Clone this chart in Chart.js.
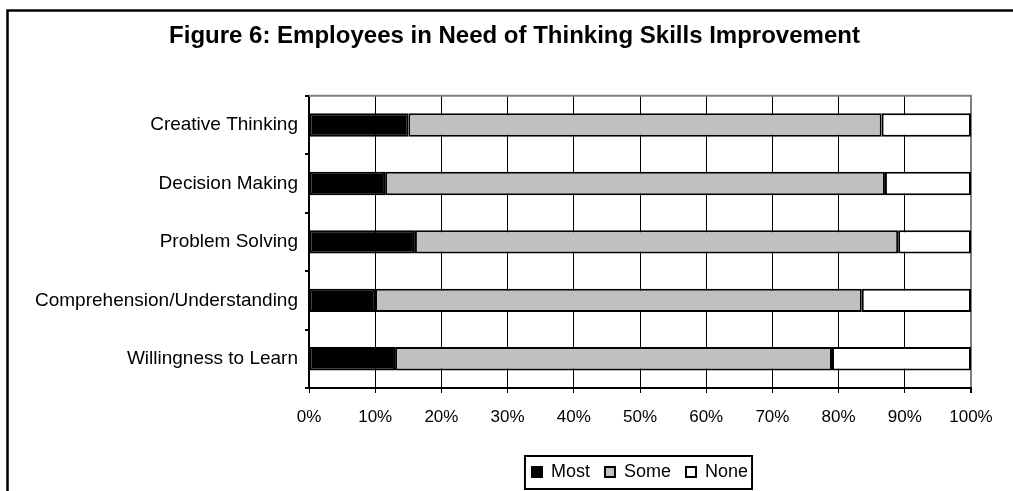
<!DOCTYPE html>
<html lang="en">
<head>
    <meta charset="UTF-8">
    <title>Figure 6</title>
    <script src="https://cdn.jsdelivr.net/npm/chart.js"></script>
    <style>
        body { margin: 0; background: #fff; }
        canvas { display: block; }
    </style>
</head>
<body>
    <canvas id="myChart" width="1013" height="491"></canvas>

    <script>
        // data (percent of employees)
        const skills = ["Creative Thinking", "Decision Making", "Problem Solving", "Comprehension/Understanding", "Willingness to Learn"];
        const most = [15, 11.5, 16, 10, 13];
        const some = [71.5, 75.5, 73, 73.5, 66];
        const none = [13.5, 13, 11, 16.5, 21];
        const xTicks = [0, 10, 20, 30, 40, 50, 60, 70, 80, 90, 100];

        const FONT = "'Liberation Sans', Arial, sans-serif";

        // outer frame, top plot border and the box around the legend
        const decor = {
            id: "decor",
            afterDraw(chart) {
                const ctx = chart.ctx;
                const area = chart.chartArea;
                ctx.save();
                ctx.strokeStyle = "#808080";
                ctx.lineWidth = 2;
                ctx.beginPath();
                ctx.moveTo(area.left, area.top);
                ctx.lineTo(area.right + 1, area.top);
                ctx.stroke();

                const hb = chart.legend.legendHitBoxes;
                if (hb && hb.length) {
                    const first = hb[0], last = hb[hb.length - 1];
                    const cy = first.top + first.height / 2;
                    ctx.strokeStyle = "#000";
                    ctx.lineWidth = 2;
                    ctx.strokeRect(first.left - 7, cy - 16, last.left + last.width - first.left + 11, 33);
                }

                ctx.strokeStyle = "#000";
                ctx.lineWidth = 2.5;
                ctx.strokeRect(7.5, 10.5, 1100, 600);
                ctx.restore();
            }
        };

        new Chart(document.getElementById("myChart"), {
            type: "bar",
            data: {
                labels: skills,
                datasets: [
                    { label: "Most", data: most, backgroundColor: "#000000" },
                    { label: "Some", data: some, backgroundColor: "#c0c0c0" },
                    { label: "None", data: none, backgroundColor: "#ffffff" }
                ]
            },
            options: {
                indexAxis: "y",
                responsive: false,
                animation: false,
                layout: { padding: { left: 16, right: 0, top: 0, bottom: 0 } },
                datasets: {
                    bar: {
                        borderColor: "#000",
                        borderWidth: 2,
                        borderSkipped: false,
                        barPercentage: 0.4,
                        categoryPercentage: 1
                    }
                },
                plugins: {
                    title: {
                        display: true,
                        text: "Figure 6: Employees in Need of Thinking Skills Improvement",
                        color: "#000",
                        font: { family: FONT, size: 24, weight: "bold" },
                        padding: { top: 22, bottom: 45 }
                    },
                    legend: {
                        position: "bottom",
                        fullSize: false,
                        labels: {
                            color: "#000",
                            font: { family: FONT, size: 18 },
                            boxWidth: 10,
                            boxHeight: 10,
                            padding: 15
                        }
                    },
                    tooltip: { enabled: false }
                },
                scales: {
                    x: {
                        stacked: true,
                        min: 0,
                        max: 100,
                        afterBuildTicks: s => { s.ticks = xTicks.map(v => ({ value: v })); },
                        afterFit: s => { s.height = 60; },
                        ticks: {
                            color: "#000",
                            font: { family: FONT, size: 17 },
                            padding: 14,
                            callback: v => v + "%"
                        },
                        grid: {
                            color: c => c.index === 10 ? "#808080" : "#000",
                            lineWidth: c => c.index === 10 ? 2 : 1,
                            tickColor: "#000",
                            tickLength: 5
                        },
                        border: { color: "#000", width: 2 }
                    },
                    y: {
                        stacked: true,
                        afterFit: s => { s.width = 293; },
                        ticks: {
                            color: "#000",
                            font: { family: FONT, size: 19 },
                            padding: 7
                        },
                        grid: {
                            drawOnChartArea: false,
                            color: "#000",
                            lineWidth: 2,
                            tickLength: 4
                        },
                        border: { color: "#000", width: 2 }
                    },
                    yRight: {
                        type: "linear",
                        position: "right",
                        afterFit: s => { s.width = 42; },
                        ticks: { display: false },
                        grid: { display: false },
                        border: { display: false }
                    }
                }
            },
            plugins: [decor]
        });
    </script>
</body>
</html>
